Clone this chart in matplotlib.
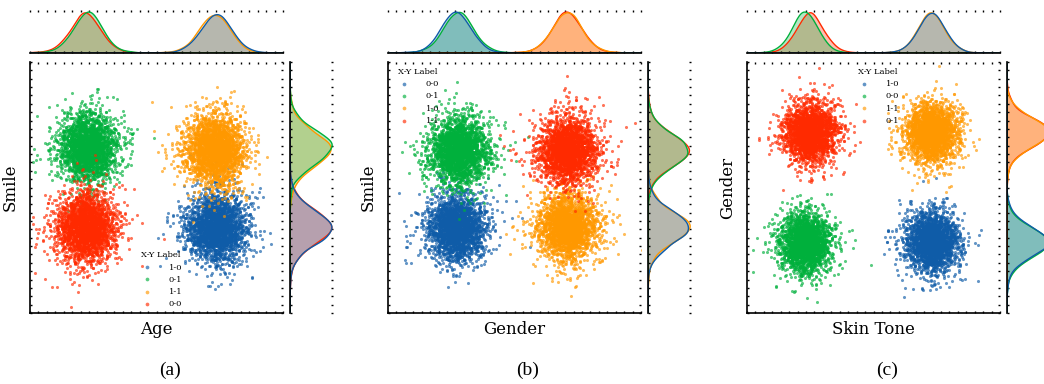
import numpy as np
import matplotlib
matplotlib.use('Agg')
import matplotlib.pyplot as plt

# cluster parameters (axes units 0..1)
# each entry: label, colour, centre x, centre y, spread x, spread y
colors = {'blue': '#0f5ca8', 'green': '#00b03c', 'orange': '#ff9800', 'red': '#ff2a00'}
n_points = 2500

panel_a_labels = ['1-0', '0-1', '1-1', '0-0']
panel_a_colors = ['blue', 'green', 'orange', 'red']
panel_a_cx = [0.74, 0.23, 0.73, 0.22]
panel_a_cy = [0.34, 0.66, 0.65, 0.34]
panel_a_sd = [(0.056, 0.066), (0.056, 0.066), (0.056, 0.066), (0.056, 0.066)]

panel_b_labels = ['0-0', '0-1', '1-0', '1-1']
panel_b_colors = ['blue', 'green', 'orange', 'red']
panel_b_cx = [0.27, 0.28, 0.71, 0.71]
panel_b_cy = [0.34, 0.65, 0.34, 0.65]
panel_b_sd = [(0.056, 0.062), (0.056, 0.062), (0.056, 0.062), (0.056, 0.062)]

panel_c_labels = ['1-0', '0-0', '1-1', '0-1']
panel_c_colors = ['blue', 'green', 'orange', 'red']
panel_c_cx = [0.73, 0.23, 0.73, 0.25]
panel_c_cy = [0.28, 0.28, 0.72, 0.72]
panel_c_sd = [(0.048, 0.054), (0.048, 0.054), (0.048, 0.054), (0.048, 0.054)]

x_names = ['Age', 'Gender', 'Skin Tone']
y_names = ['Smile', 'Smile', 'Gender']
captions = ['(a)', '(b)', '(c)']
legend_locs = [(0.40, -0.01), (0.0, 0.72), (0.40, 0.72)]

panels = [
    (panel_a_labels, panel_a_colors, panel_a_cx, panel_a_cy, panel_a_sd),
    (panel_b_labels, panel_b_colors, panel_b_cx, panel_b_cy, panel_b_sd),
    (panel_c_labels, panel_c_colors, panel_c_cx, panel_c_cy, panel_c_sd),
]

rng = np.random.default_rng(3)
W, H = 1044, 384
fig = plt.figure(figsize=(W / 100, H / 100), dpi=100)


def kde(v, grid, bw=0.02):
    d = (grid[:, None] - v[None, :]) / bw
    return np.exp(-0.5 * d ** 2).sum(axis=1) / (len(v) * bw * np.sqrt(2 * np.pi))


def style(ax, left=True, bottom=True, top_ticks=True, right_ticks=True):
    for s in ax.spines.values():
        s.set_visible(False)
    ax.spines['left'].set_visible(left)
    ax.spines['bottom'].set_visible(bottom)
    ax.spines['left'].set_linewidth(1.2)
    ax.spines['bottom'].set_linewidth(1.2)
    ax.tick_params(direction='in', length=1.5, width=1, labelbottom=False, labelleft=False,
                   top=top_ticks, right=right_ticks, left=left, bottom=bottom)


main_lefts = [30, 388, 747]
grid = np.linspace(0, 1, 400)
for p, (labels, cols, cx, cy, sd) in enumerate(panels):
    x0 = main_lefts[p]
    ax = fig.add_axes([x0 / W, (H - 313) / H, 253 / W, 251 / H])
    axt = fig.add_axes([x0 / W, (H - 53) / H, 253 / W, 43 / H])
    axr = fig.add_axes([(x0 + 260) / W, (H - 313) / H, 43 / W, 251 / H])

    samples = []
    for lab, c, mx, my, (sx, sy) in zip(labels, cols, cx, cy, sd):
        xs = mx + sx * rng.standard_t(15, n_points)
        ys = my + sy * rng.standard_t(15, n_points)
        ax.scatter(xs, ys, s=5, color=colors[c], alpha=0.65, linewidths=0, label=lab)
        samples.append((c, xs, ys))

    # marginals drawn in reverse order (layered fills)
    dens_x, dens_y = [], []
    for c, xs, ys in samples[::-1]:
        dx = kde(xs, grid)
        dy = kde(ys, grid)
        axt.fill_between(grid, dx, color=colors[c], alpha=0.3, linewidth=0)
        axt.plot(grid, dx, color=colors[c], lw=1)
        axr.fill_betweenx(grid, dy, color=colors[c], alpha=0.3, linewidth=0)
        axr.plot(dy, grid, color=colors[c], lw=1)
        dens_x.append(dx.max())
        dens_y.append(dy.max())

    ax.set_xlim(0, 1)
    ax.set_ylim(0, 1)
    axt.set_xlim(0, 1)
    axt.set_ylim(0, max(dens_x) * 1.05)
    axr.set_ylim(0, 1)
    axr.set_xlim(0, max(dens_y) * 1.02)

    ticks = np.linspace(0, 1, 31)
    ax.set_xticks(ticks)
    ax.set_yticks(ticks)
    axt.set_xticks(ticks)
    axt.set_yticks([])
    axr.set_yticks(ticks)
    axr.set_xticks([])
    style(ax)
    style(axt, left=False, bottom=True, top_ticks=True, right_ticks=False)
    style(axr, left=True, bottom=False, top_ticks=False, right_ticks=True)
    axt.tick_params(left=False, right=False)
    axr.tick_params(top=False, bottom=False)

    ax.set_xlabel(x_names[p], family='DejaVu Serif', fontsize=12, labelpad=6)
    ax.set_ylabel(y_names[p], family='DejaVu Serif', fontsize=12, labelpad=8)
    ax.legend(title='X-Y Label', loc='lower left', bbox_to_anchor=legend_locs[p],
              frameon=False, prop={'family': 'DejaVu Serif', 'size': 6},
              title_fontproperties={'family': 'DejaVu Serif', 'size': 6},
              markerscale=1.2, handletextpad=1.6, labelspacing=0.5)
    fig.text((x0 + 140) / W, 1 - 370 / H, captions[p], ha='center', va='center',
             family='Liberation Serif', fontsize=14)

fig.savefig('out.png', dpi=100)
